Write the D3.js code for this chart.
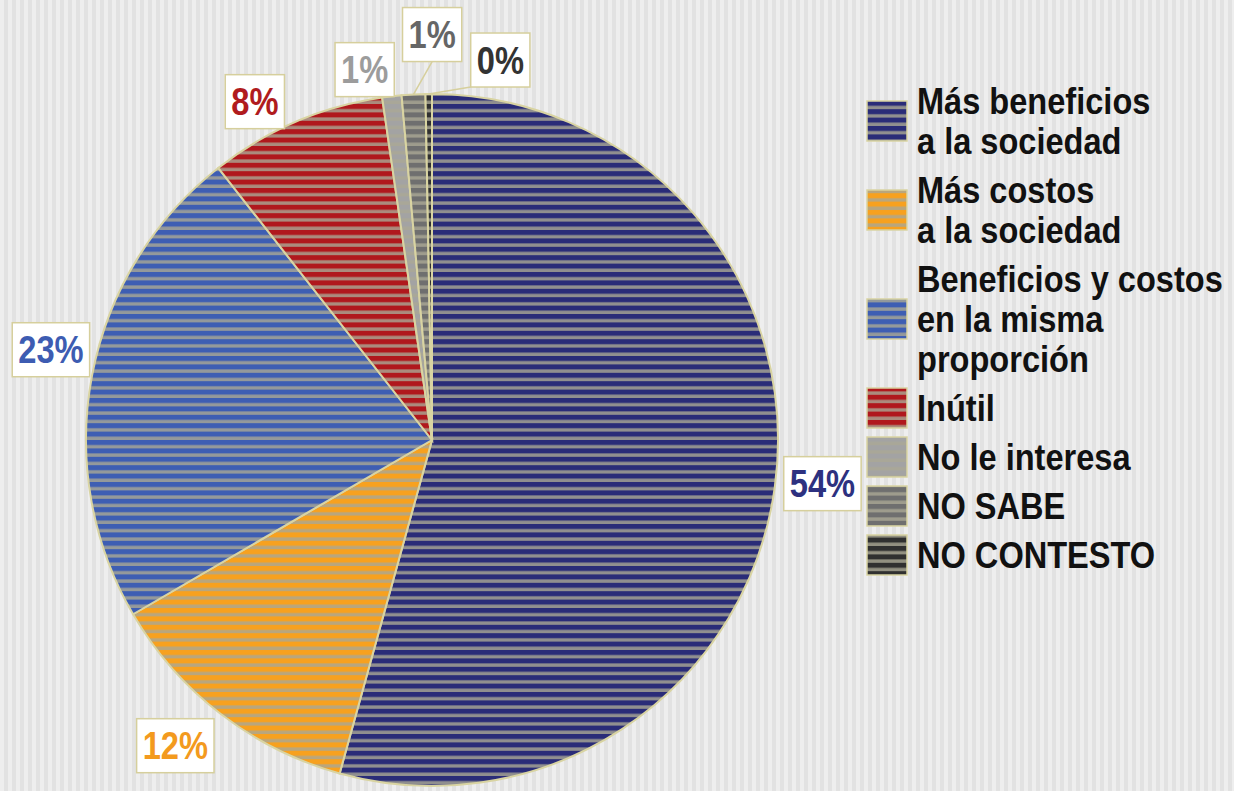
<!DOCTYPE html>
<html>
<head>
<meta charset="utf-8">
<script src="https://cdn.jsdelivr.net/npm/d3@7"></script>
<style>
    html, body { margin: 0; padding: 0; }
    svg { display: block; font-family: "Liberation Sans", Arial, sans-serif; }
</style>
</head>
<body>
<svg id="chart" width="1234" height="791"></svg>
<script>
// Datos del gráfico
const categories = [
    'Más beneficios\na la sociedad',
    'Más costos\na la sociedad',
    'Beneficios y costos\nen la misma\nproporción',
    'Inútil',
    'No le interesa',
    'NO SABE',
    'NO CONTESTO',
]
const values = [54.3, 12.3, 22.8, 8.3, 0.9, 1.1, 0.3]
const colors = ['#2a2c78', '#f7a11f', '#3e5eb3', '#b0181d', '#a3a3a3', '#6f6f6f', '#303030']
const labelColors = ['#2d3180', '#f39a1e', '#3d5cb2', '#b01b1e', '#9c9c9c', '#666666', '#333333']

// ajustes manuales de las etiquetas (como en el original)
const labelNudge = [[3, -9], [-18, -4], [3, -17], [-23, 21], [-22, 18], [21, -15], [72, 11]]

const svg = d3.select('#chart'),
    width = +svg.attr('width'),
    height = +svg.attr('height')

const defs = svg.append('defs')

// Fondo con rayas verticales
const bg = defs.append('pattern')
    .attr('id', 'bg')
    .attr('patternUnits', 'userSpaceOnUse')
    .attr('width', 8)
    .attr('height', 8)
bg.append('rect').attr('width', 8).attr('height', 8).attr('fill', '#eeeeee')
bg.append('rect').attr('x', 4).attr('width', 4).attr('height', 8).attr('fill', '#e2e2e2')

svg.append('rect')
    .attr('width', width)
    .attr('height', height)
    .attr('fill', 'url(#bg)')

// Rayas horizontales para cada porción
colors.forEach((c, i) => {
    const p = defs.append('pattern')
        .attr('id', 'stripe' + i)
        .attr('patternUnits', 'userSpaceOnUse')
        .attr('width', 8)
        .attr('height', 8.4)
    p.append('rect').attr('width', 8).attr('height', 8.4).attr('fill', c)
    p.append('rect')
        .attr('y', 5)
        .attr('width', 8)
        .attr('height', 3.4)
        .attr('fill', '#aaa795')
        .attr('opacity', 0.8)
})

const cx = 432, cy = 440, r = 346
const squeeze = 0.86 // el texto original es estrecho

const pie = d3.pie().sort(null).value(d => d)
const arcs = pie(values)
const arc = d3.arc().innerRadius(0).outerRadius(r)

const g = svg.append('g').attr('transform', `translate(${cx},${cy})`)

g.selectAll('path.slice')
    .data(arcs)
    .join('path')
    .attr('class', 'slice')
    .attr('d', arc)
    .attr('fill', (d, i) => `url(#stripe${i})`)
    .attr('stroke', '#d9d4a2')
    .attr('stroke-width', 2)

// Etiquetas con porcentaje
const labelArc = d3.arc().innerRadius(r + 45).outerRadius(r + 45)
const edgeArc = d3.arc().innerRadius(r).outerRadius(r)

arcs.forEach((d, i) => {
    const [lx0, ly0] = labelArc.centroid(d)
    const lx = lx0 + labelNudge[i][0]
    const ly = ly0 + labelNudge[i][1]
    const lg = g.append('g').attr('transform', `translate(${lx},${ly})`)
    const txt = lg.append('text')
        .attr('text-anchor', 'middle')
        .attr('dy', '0.36em')
        .attr('transform', `scale(${squeeze},1)`)
        .attr('font-size', 38)
        .attr('font-weight', 'bold')
        .attr('fill', labelColors[i])
        .text(Math.round(d.data) + '%')
    const bw = txt.node().getComputedTextLength() * squeeze + 12
    const bh = 54
    lg.insert('rect', 'text')
        .attr('x', -bw / 2)
        .attr('y', -bh / 2)
        .attr('width', bw)
        .attr('height', bh)
        .attr('fill', '#ffffff')
        .attr('stroke', '#d6cf9c')
        .attr('stroke-width', 1.5)

    // líneas guía para etiquetas desplazadas
    if (i >= 5) {
        const [ex, ey] = edgeArc.centroid(d)
        const sx = i === 5 ? lx : lx - bw / 2
        const sy = ly + bh / 2
        g.insert('line', 'g')
            .attr('x1', sx).attr('y1', sy)
            .attr('x2', ex).attr('y2', ey)
            .attr('stroke', '#d6cf9c')
            .attr('stroke-width', 1.5)
    }
})

// Leyenda
const legendX = 867, lineH = 40, gap = 9
let yCenter = 121
const legend = svg.append('g')

categories.forEach((name, i) => {
    const lines = name.split('\n')
    if (i > 0) {
        const prevLines = categories[i - 1].split('\n').length
        yCenter += (prevLines + lines.length) * lineH / 2 + gap
    }
    legend.append('rect')
        .attr('x', legendX)
        .attr('y', yCenter - 20)
        .attr('width', 40)
        .attr('height', 40)
        .attr('fill', `url(#stripe${i})`)
        .attr('stroke', '#d9d4a2')
        .attr('stroke-width', 1.5)
    const t = legend.append('text')
        .attr('transform', `translate(${legendX + 50},0) scale(0.88,1)`)
        .attr('font-size', 37)
        .attr('font-weight', 'bold')
        .attr('fill', '#111')
    lines.forEach((ln, k) => {
        t.append('tspan')
            .attr('x', 0)
            .attr('y', yCenter + (k - (lines.length - 1) / 2) * lineH)
            .attr('dy', '0.36em')
            .text(ln)
    })
})
</script>
</body>
</html>
